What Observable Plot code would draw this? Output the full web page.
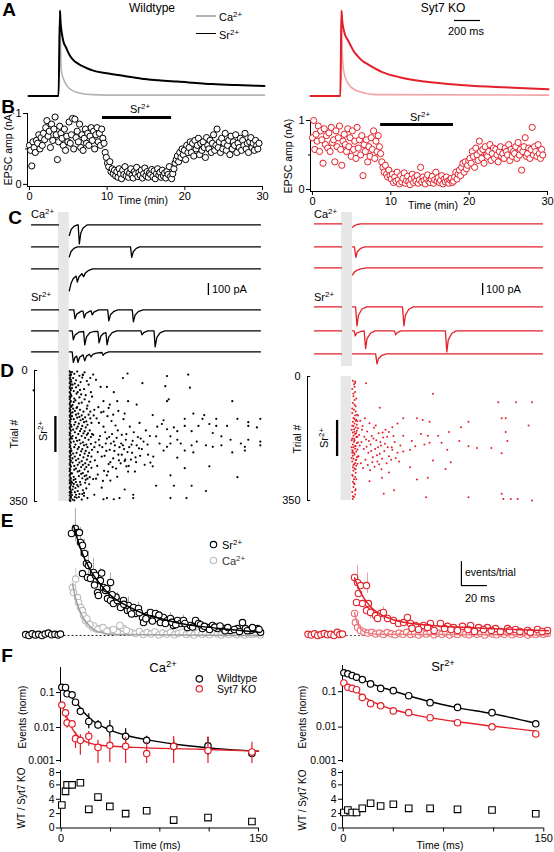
<!DOCTYPE html>
<html><head><meta charset="utf-8">
<script src="https://cdn.jsdelivr.net/npm/d3@7"></script>
<script src="https://cdn.jsdelivr.net/npm/@observablehq/plot@0.6"></script>
<style>
html,body{margin:0;padding:0;background:#fff;}
#fig{position:relative;width:554px;height:852px;overflow:hidden;font-family:"Liberation Sans",Arial,Helvetica,sans-serif;color:#000;background:#fff;}
</style></head><body><div id="fig"></div>
<script>
// ================= DATA =================
// A: averaged EPSCs (time ms, normalised amplitude)
const aWTSrT = [0,231,242,246,252,260,270,288,305,328,360,408,450,492,600,738,869,1000,1146,1415,1600,1815];
const aWTSr  = [0,0,1,0.88,0.78,0.70,0.63,0.57,0.51,0.45,0.40,0.354,0.325,0.30,0.265,0.234,0.203,0.185,0.169,0.140,0.128,0.117];
const aWTCaT = [0,231,242,247,252,274,315,369,492,700,1815];
const aWTCa  = [0,0,1,0.55,0.30,0.18,0.087,0.045,0.016,0.01,0.01];
const aKOSrT = [0,230,238,244,252,265,285,306,330,361,400,442,551,685,877,1146,1423,1831];
const aKOSr  = [0,0,1,0.88,0.80,0.72,0.66,0.60,0.53,0.47,0.41,0.37,0.28,0.22,0.17,0.13,0.106,0.078];
const aKOCaT = [0,230,238,244,254,292,362,497,1831];
const aKOCa  = [0,0,1,0.55,0.30,0.14,0.058,0.016,0.01];

// B: EPSC amplitude (nA x100), one point every 0.15 min
const bStep = 0.15;
const bWT = [55,48,26,60,52,45,62,58,70,50,66,55,72,63,80,90,68,75,52,85,62,78,95,70,35,60,82,72,65,55,78,48,68,60,88,58,70,93,50,92,66,75,60,85,52,70,48,65,78,58,72,55,68,80,62,75,50,70,80,60,72,55,78,65,58,45,38,30,25,32,18,22,15,20,12,18,10,22,15,8,20,14,25,12,18,10,16,22,13,9,18,15,24,11,17,13,20,9,15,23,12,18,10,16,14,21,11,19,8,15,22,13,17,10,20,12,16,9,18,14,25,11,8,15,22,30,35,40,32,45,38,50,42,48,35,55,45,52,60,45,58,40,62,50,55,65,42,58,48,60,52,38,66,55,50,62,45,58,70,48,55,78,52,60,45,65,50,58,72,48,55,62,42,68,50,60,55,70,45,58,52,65,48,62,55,72,50,58,45,60,66,52,58,48,62,55,50,58];
const bKO = [75,100,58,80,70,92,55,85,72,38,88,65,78,60,82,55,90,68,72,40,85,62,75,92,58,35,70,80,65,55,88,62,75,48,85,58,70,45,90,60,72,50,78,20,65,55,72,40,62,48,75,58,85,45,70,55,78,62,52,40,32,25,35,22,18,28,20,15,22,10,18,12,25,14,8,20,11,16,24,9,13,19,12,7,15,22,10,17,12,20,9,14,32,11,18,13,8,16,21,12,10,15,19,9,14,25,12,17,10,13,20,8,15,11,18,12,9,14,16,10,12,18,25,15,22,28,20,32,38,25,40,30,35,42,45,38,55,48,32,60,50,42,70,55,45,58,38,62,50,48,55,65,42,52,60,45,58,50,40,55,62,48,52,45,60,55,50,65,42,58,48,55,52,62,45,68,50,58,28,55,62,75,48,52,60,45,58,90,50,62,55,48,65,52,45,58,50];
const bSrWT = [9.4, 18.3], bSrKO = [8.7, 18.0];

// C: single sweeps (time ms from stimulus, current pA)
const cPreWT = [[-47,0],[0,0]], cPreKO = [[-50.7,0],[-3.5,0]];
const cWT = [
 [[19,-88],[22,-40],[27,-12],[33,0],[34.5,0],[36.5,-158],[39,-70],[43,-25],[50,0],[353,0]],
 [[19,-83],[22,-38],[27,-12],[33,0],[126,0],[128,-88],[131,-38],[136,-12],[142,0],[353,0]],
 [[19,-183],[22,-120],[26,-80],[31,-60],[33,-110],[36,-65],[41,-40],[44,-65],[47,-35],[52,-15],[60,0],[353,0]],
 [[19,0],[27,0],[29,-75],[32,-35],[40,-10],[43,-10],[45,-67],[48,-30],[55,-10],[57,-8],[59,-42],[62,-18],[70,0],[86,0],[88,-92],[91,-40],[97,-12],[104,0],[129,0],[131,-100],[134,-42],[140,-12],[148,0],[353,0]],
 [[19,0],[24,0],[26,-75],[29,-35],[36,-10],[44,-5],[46,-117],[49,-50],[55,-15],[62,-5],[69,-5],[71,-100],[74,-45],[79,-20],[83,-15],[85,-117],[88,-50],[94,-15],[102,0],[144,0],[146,-33],[149,-14],[156,0],[167,0],[169,-133],[172,-55],[178,-15],[186,0],[353,0]],
 [[19,0],[24,0],[26,-88],[29,-45],[32,-35],[34,-88],[37,-45],[43,-25],[46,-75],[49,-35],[54,-20],[57,-42],[60,-20],[66,-10],[76,-5],[78,-29],[81,-12],[88,0],[353,0]]
];
const cKO = [
 [[15.7,-29],[19,-14],[24,-5],[30,0],[347.6,0]],
 [[15.7,0],[19,0],[21.5,-88],[24,-40],[30,-12],[37,0],[347.6,0]],
 [[15.7,-58],[19,-35],[24,-18],[30,-8],[40,0],[347.6,0]],
 [[15.7,0],[21,0],[23.5,-158],[26,-70],[32,-20],[40,0],[103,0],[105.5,-158],[108,-70],[114,-20],[122,0],[347.6,0]],
 [[15.7,0],[18.5,0],[20.5,-42],[23,-18],[30,-5],[36,0],[38.5,-147],[41,-65],[47,-20],[55,0],[89,0],[91,-33],[94,-14],[100,0],[178,0],[180.5,-175],[183,-75],[189,-22],[197,0],[347.6,0]],
 [[15.7,0],[56,0],[58.5,-83],[61,-40],[67,-12],[75,0],[347.6,0]]
];
const cBlankWT = [0, 19], cBlankKO = [-3.5, 15.7];

// D: raster of events (time ms, trial #), flat pairs
const dWT = [19,2,20,6,21,10,19,13,20,18,19,22,21,25,20,29,19,34,21,37,20,41,19,46,20,49,21,53,19,58,20,61,21,65,19,70,20,73,19,77,21,82,20,85,19,89,20,94,21,97,19,101,20,106,19,109,21,113,20,118,19,121,20,125,21,130,19,133,20,137,19,142,21,145,20,149,19,154,20,157,21,161,19,166,20,169,19,173,21,178,20,181,19,185,20,190,21,193,19,197,20,202,19,205,21,209,20,214,19,217,20,221,21,226,19,229,20,233,19,238,21,241,20,245,19,250,20,253,21,257,19,262,20,265,19,269,21,274,20,277,19,281,20,286,21,289,19,293,20,298,19,301,21,305,20,310,19,313,20,317,21,322,19,325,20,329,19,334,21,337,20,341,19,346,20,349,
23,4,27,9,32,3,36,14,25,20,30,26,41,19,45,5,28,35,34,40,23,47,38,31,49,28,26,55,31,62,44,50,22,68,36,72,29,80,40,86,24,92,33,58,47,66,52,38,27,75,35,88,42,12,55,20,22,30,30,45,37,52,26,84,45,77,50,94,32,98,58,70,21,12,24,38,39,64,53,83,
22,96,25,102,28,108,31,100,34,115,37,105,40,120,43,110,46,125,49,102,52,118,55,128,23,122,26,130,29,138,32,126,35,142,38,133,41,148,44,138,47,152,50,145,54,160,57,140,22,150,25,158,28,165,31,155,34,170,37,162,40,175,43,168,46,180,49,172,52,185,56,178,23,182,26,190,29,198,32,188,35,205,38,195,41,210,44,200,47,215,50,205,53,220,58,212,22,215,25,222,28,230,31,220,34,236,37,226,40,242,43,232,46,248,49,238,52,252,55,244,24,246,27,255,30,262,33,252,36,268,39,258,42,274,45,264,48,280,51,270,54,285,23,275,26,284,29,290,35,282,41,288,47,292,57,260,24,112,30,118,36,124,42,130,48,136,27,145,33,150,39,156,45,162,51,168,24,175,30,180,36,186,42,192,48,198,27,205,33,210,39,216,45,222,51,228,24,235,30,240,36,246,42,252,48,258,27,265,33,270,39,276,45,282,57,230,56,196,58,170,55,110,
22,296,26,303,30,298,34,310,24,318,28,325,38,305,42,320,23,333,31,340,27,347,36,330,46,300,25,310,33,322,21,340,40,345,29,314,35,338,44,335,22,326,26,292,48,315,30,332,37,298,24,345,32,306,41,330,23,300,28,338,
62,105,66,128,70,140,74,112,78,150,81,165,85,122,88,178,92,135,96,190,99,147,103,160,106,205,110,172,113,130,117,185,120,218,124,150,127,198,131,165,134,232,138,178,141,140,145,210,148,190,152,160,156,225,159,175,63,240,67,255,71,200,75,230,79,268,83,215,87,250,91,195,95,235,100,262,104,225,108,248,112,200,116,238,122,255,128,220,135,245,142,228,150,252,60,172,64,192,68,218,72,175,76,205,80,228,84,182,89,212,93,170,97,215,101,180,105,240,109,195,114,210,118,170,123,205,129,188,136,200,143,182,60,290,68,278,77,295,86,270,94,258,102,284,61,120,69,98,78,110,87,100,95,118,104,108,62,205,70,185,82,195,90,245,98,200,110,225,126,238,140,208,155,198,165,230,172,150,160,246,
42,11,60,11,112,20,120,8,146,34,189,15,226,11,229,46,186,42,189,82,192,77,96,58,102,82,121,82,84,44,78,82,56,58,65,25,73,44,89,91,115,115,136,91,164,119,303,82,235,115,254,119,220,129,251,129,275,129,294,148,312,129,331,138,352,129,331,148,346,152,275,148,263,143,244,148,232,162,220,148,269,167,284,176,300,185,318,195,331,185,352,190,352,200,325,214,303,219,325,204,284,200,269,204,257,200,241,190,232,200,213,195,207,185,195,176,189,157,180,143,183,133,201,152,207,162,195,195,189,204,183,214,176,195,170,176,220,214,235,219,207,233,115,242,118,256,121,270,133,270,164,256,220,261,263,256,312,285,195,280,201,308,232,308,257,322,130,332,130,341,195,341,223,341,84,341,96,344,106,341,78,344,115,318,170,308,50,289,53,304,65,289,84,280,90,294,75,313,62,332,50,341,44,327,-44,53];
const dKO = [17,12,19,22,16,35,21,44,18,56,20,66,17,75,22,84,19,94,16,103,21,110,18,117,23,122,17,128,20,133,16,139,22,144,19,149,24,153,17,158,21,162,18,167,23,171,16,175,20,180,19,184,24,188,17,192,22,196,18,200,21,204,16,208,23,212,19,216,20,220,17,224,24,228,18,232,22,236,16,240,21,244,19,248,23,252,17,256,20,260,18,266,22,272,16,278,21,284,19,290,17,297,20,304,18,312,22,318,16,326,21,333,19,340,17,346,20,29,23,62,16,90,22,99,25,126,26,146,25,170,26,186,25,206,26,226,25,246,24,170,15,150,15,200,15,180,15,230,18,140,23,160,16,215,22,262,17,280,20,120,24,136,19,176,21,196,18,250,23,235,17,210,20,156,22,125,19,301,21,322,23,290,17,338,20,80,24,108,18,49,21,18,
26,110,30,125,34,140,38,118,42,155,46,132,50,168,54,145,58,180,62,160,66,195,70,172,74,150,78,200,28,165,32,185,36,205,40,178,44,215,48,192,52,228,56,205,60,240,64,218,68,232,72,210,76,245,80,225,27,225,31,245,35,258,39,235,43,250,47,265,51,242,55,255,59,222,63,248,67,262,29,195,33,150,37,170,41,198,45,182,49,210,53,175,57,138,61,200,65,185,69,158,73,190,77,170,85,200,90,185,95,215,100,195,92,230,84,235,88,168,98,240,
40,19,21,14,157,49,64,88,271,73,302,73,330,73,277,118,284,118,324,138,284,157,287,182,219,128,206,143,185,157,166,167,172,187,182,207,148,167,136,162,129,118,139,123,151,128,105,118,95,133,86,143,80,157,105,167,120,182,126,197,142,192,151,187,117,207,105,212,86,207,203,182,219,197,234,202,259,202,277,217,157,237,188,242,179,261,117,256,80,271,68,286,129,291,148,286,46,296,89,321,71,331,145,341,219,341,277,331,280,346,293,346,305,346,330,350];
const dSrTrialsWT = [123, 219], dSrTrialsKO = [124, 226];

// E: event rate histograms (time ms, events/trial in scale-bar units)
const eWTSr = [0.8,4.25,3.8,4.46,5.4,4.29,6.9,4.29,7.7,3.88,9.2,3.75,10.8,3.42,12.3,3.0,13.8,2.92,9.2,2.58,13.1,2.42,15.4,2.38,17.7,2.63,19.2,2.5,23,2.29,25.4,2.0,30.8,2.21,20.8,1.79,21.5,1.67,26.9,1.88,28.5,1.54,30.8,1.46,33,1.33,36,1.46,40.8,1.46,38.5,1.17,43.8,1.04,44.6,1.25,46,1.04,48.5,1.17,52.3,1.13,50,0.92,55.4,0.75,56.2,0.54,59.2,0.83,61.5,0.96,65.4,0.92,66.9,0.71,69.2,0.54,71.5,0.75,74.6,0.63,76.9,0.71,79.2,0.42,82.3,0.63,84.6,0.5,86.9,0.63,90,0.33,92.3,0.42,96.2,0.63,98.5,0.5,101.5,0.29,105.4,0.33,109.2,0.42,113,0.29,117.7,0.29,123,0.21,128.5,0.29,132.3,0.54,134.6,0.29,138.5,0.21,143.8,0.29,146.2,0.13,35,1.6,41,1.3,47,0.9,53,0.95,58,0.7,63,0.6,68,0.85,73,0.5,78,0.55,81,0.45,88,0.5,94,0.35,100,0.45,103,0.38,107,0.25,111,0.35,115,0.4,119,0.2,121,0.33,126,0.25,130,0.17,136,0.2,140,0.33,145,0.25,18.5,2.1,24,2.6,27.7,1.95,32,1.7];
const eWTCa = [1.5,2.0,2.3,1.79,4,2.35,5.4,1.58,6.2,1.38,7.7,1.17,9.2,1.04,10,0.83,11.5,0.63,13.8,0.5,16.9,0.33,19.2,0.29,23,0.29,26.9,0.21,30.8,0.21,36,0.13,40.8,0.29,46,0.13,18,0.4,21,0.25,25,0.33,28,0.17,33,0.25,38,0.42,43,0.21,50,0.08,53,0.17,56,0.04,59,0.12,62,0.06,65,0.15,68,0.02,71,0.1,74,0.05,77,0.13,80,0.03,83,0.09,86,0.14,89,0.04,92,0.08,95,0.02,98,0.11,101,0.05,104,0.09,107,0.03,110,0.12,113,0.06,116,0.02,119,0.08,122,0.04,125,0.1,128,0.03,131,0.07,134,0.02,137,0.06,140,0.04,143,0.08,146,0.03,12.5,0.7,15,0.45];
const eWTBase = [-34.5,0.04,-32,0.0,-29.5,0.07,-27,0.02,-24.5,0.05,-22,0.0,-19.5,0.06,-17,0.1,-14.5,0.03,-12,0.05,-9.5,0.02,-7.7,0.06];
const eKOSr = [0.8,2.42,3.1,2.21,5.4,2.08,10,2.08,3.8,1.75,2.3,1.38,6.9,1.33,11.5,1.33,10,1.04,13.1,0.96,16.9,0.83,20.8,0.92,23,0.96,18.5,0.71,26.2,0.71,30.8,0.63,34.6,0.5,41.5,0.75,38.5,0.54,43.8,0.5,47.7,0.42,53.8,0.42,59.2,0.5,66.9,0.5,72.3,0.38,76.9,0.33,83.8,0.38,90,0.42,96.2,0.33,103,0.33,109.2,0.29,118.5,0.29,124.6,0.25,133.8,0.21,141.5,0.25,149.2,0.21,45,0.3,50,0.25,57,0.33,62,0.21,70,0.29,75,0.25,80,0.21,88,0.25,93,0.17,100,0.25,106,0.21,113,0.17,120,0.21,128,0.17,136,0.13,145,0.17];
const eKOCa = [0.8,0.92,1.5,0.54,3.1,0.33,5.4,0.21,8,0.15,11,0.1,14,0.13,17,0.06,20,0.1,23,0.04,26,0.12,29,0.07,32,0.03,35,0.1,38,0.05,41,0.13,44,0.04,47,0.08,50,0.02,53,0.1,56,0.06,59,0.12,62,0.03,65,0.09,68,0.05,71,0.11,74,0.02,77,0.08,80,0.04,83,0.12,86,0.06,89,0.03,92,0.1,95,0.05,98,0.08,101,0.02,104,0.11,107,0.06,110,0.03,113,0.09,116,0.05,119,0.12,122,0.03,125,0.08,128,0.05,131,0.1,134,0.02,137,0.07,140,0.04,143,0.09,146,0.05,149,0.08];
const eKOBase = [-35,0.05,-32.5,0.02,-30,0.07,-27.5,0.0,-25,0.04,-22.5,0.08,-20,0.03,-17.5,0.05,-15,0.0,-12.5,0.13,-10.5,0.04,-8.5,0.06];
const eWTSrErr = [[3.8,3.9,5.3],[7.7,3.3,4.5],[10.8,2.9,4.0],[13.8,2.3,3.5],[17.7,2.1,3.2],[23,1.8,2.8],[30.8,1.8,2.6],[36,1.1,1.8],[44.6,0.9,1.6],[52.3,0.8,1.4],[59.2,0.6,1.1],[66.9,0.4,1.0],[76.9,0.45,0.95],[86.9,0.4,0.85]];
const eWTCaErr = [[4,1.9,2.8],[7.7,0.9,1.45],[11.5,0.45,0.8]];
const eKOSrErr = [[3.1,1.9,2.9],[10.8,1.75,2.6],[13.1,0.7,1.25],[23,0.7,1.2]];
const eWTSrFit = [[2.3,4.58],[7.7,3.63],[15.4,2.71],[23,2.13],[30.8,1.67],[38.5,1.38],[46,1.17],[57.7,0.88],[69.2,0.71],[84.6,0.5],[100,0.38],[123,0.25],[146,0.13]];
const eWTCaFit = [[1.5,2.17],[3.8,1.58],[6.2,1.17],[9.2,0.79],[12.3,0.54],[16.9,0.29],[23,0.13],[34.6,0.04],[146,0]];
const eKOSrFit = [[0.8,2.4],[5,1.85],[10,1.4],[15,1.1],[20,0.9],[30,0.67],[40,0.54],[60,0.42],[80,0.35],[110,0.28],[150,0.2]];
const eKOCaFit = [[0.8,0.95],[3,0.5],[6,0.25],[10,0.12],[20,0.05],[150,0.02]];

// F: normalised event decay (time ms)
const fTCa = [0.5,3.3,4.5,8.3,10.9,14.6,21,28,37,49,65,85.5,111.6,145];
const fCaWT = [0.141,0.14,0.092,0.086,0.053,0.029,0.0149,0.0119,0.0092,0.0056,0.0043,0.0029,0.003,0.0018];
const fCaWTlo = [0.12,0.12,0.08,0.075,0.045,0.024,0.0092,0.0092,0.0053,0.0038,0.0034,0.002,0.0016,0.0014];
const fCaWThi = [0.165,0.165,0.105,0.1,0.062,0.035,0.0246,0.0159,0.0159,0.0092,0.0056,0.0043,0.0053,0.0024];
const fCaKO = [0.044,0.0263,0.0136,0.0127,0.0048,0.0043,0.0056,0.0027,0.0031,0.0029,0.0018,0.0029,0.0022,0.002];
const fCaKOlo = [0.038,0.0184,0.0095,0.01,0.0025,0.0016,0.0029,0.00093,0.001,0.00093,0.00093,0.00093,0.00093,0.00093];
const fCaKOhi = [0.05,0.032,0.018,0.016,0.0073,0.0062,0.0077,0.0043,0.0055,0.0053,0.0038,0.0055,0.0053,0.0038];
const fCaRatio = [3.2,5.1,6.0,6.0,null,6.3,2.6,4.3,3.0,2.0,2.4,1.1,1.45,0.9];
const fCaWTFit = [[0.2,0.166],[4.5,0.102],[10.9,0.0553],[17.2,0.0274],[24.8,0.0149],[35,0.0092],[50.1,0.0059],[67.8,0.0043],[93.1,0.0031],[118.4,0.0025],[150,0.0021]];
const fCaKOFit = [[0.2,0.0475],[3.3,0.0246],[7.1,0.0114],[12.2,0.0059],[19.8,0.0038],[29.9,0.0031],[55.2,0.0027],[105.8,0.0024],[150,0.0021]];
const fTSr = [0.5,3.5,6.7,10,14.3,20.5,28,37.5,49,65,85.5,111.3,144];
const fSrWT = [0.342,0.32,0.286,0.256,0.22,0.166,0.124,0.107,0.077,0.049,0.036,0.0256,0.0124];
const fSrKO = [0.177,0.133,0.124,0.114,0.069,0.046,0.040,0.0287,0.0256,0.0184,0.0133,0.0102,0.0064];
const fSrKOlo = [0.16,0.12,0.11,0.1,0.058,0.039,0.033,0.025,0.022,0.016,0.0115,0.0088,0.0055];
const fSrKOhi = [0.195,0.148,0.138,0.128,0.082,0.054,0.048,0.033,0.03,0.021,0.0155,0.0118,0.0074];
const fSrRatio = [2.16,2.5,2.16,2.16,2.74,3.44,3.06,3.3,2.74,2.74,2.6,2.5,1.98];
const fSrWTFit = [[0,0.356],[10.5,0.256],[20.4,0.173],[32.9,0.119],[49.1,0.077],[65.3,0.052],[85.2,0.0356],[111.4,0.024],[144.3,0.0128]];
const fSrKOFit = [[0,0.193],[6.7,0.133],[14.2,0.077],[27.9,0.0417],[49.1,0.024],[82.7,0.0146],[111.4,0.0107],[144.3,0.0077]];

// ================= RENDER =================
const FONT = '"Liberation Sans", Arial, Helvetica, sans-serif';
const RED = "#e3202a", PINK = "#f3a3a6", GRAY = "#b3b3b3", BLANK = "#e7e7e7";
const fig = document.getElementById("fig");
const pairs = a => Array.from({length: a.length / 2}, (_, i) => [a[2 * i], a[2 * i + 1]]);
const zip = (t, v) => t.map((x, i) => [x, v[i]]);

function plotAt(frame, pad, opts) {
  const [x0, x1, y0, y1] = frame, [pl, pt, pr, pb] = pad;
  const svg = Plot.plot({
    ...opts,
    width: x1 - x0 + pl + pr, height: y1 - y0 + pt + pb,
    marginLeft: pl, marginTop: pt, marginRight: pr, marginBottom: pb,
    style: {fontFamily: FONT, fontSize: "11px", background: "transparent", overflow: "visible", color: "#000"}
  });
  svg.style.position = "absolute";
  svg.style.left = (x0 - pl) + "px";
  svg.style.top = (y0 - pt) + "px";
  svg.style.maxWidth = "none";
  fig.appendChild(svg);
  return svg;
}
const sup = s => `<span style="font-size:72%;position:relative;top:-0.5em">${s}</span>`;
function lab(html, x, y, o = {}) {
  const d = document.createElement("div");
  d.innerHTML = html;
  const tx = o.anchor === "start" ? "0" : o.anchor === "end" ? "-100%" : "-50%";
  d.style.cssText = `position:absolute;left:${x}px;top:${y}px;font-size:${o.size || 11}px;font-weight:${o.bold ? "bold" : "normal"};color:${o.color || "#000"};white-space:nowrap;line-height:1;transform:translate(${tx},-50%)${o.rot ? ` rotate(${o.rot}deg)` : ""};`;
  fig.appendChild(d);
}
function swatch(x1, x2, y, color, w) {
  const d = document.createElement("div");
  d.style.cssText = `position:absolute;left:${x1}px;top:${y - w / 2}px;width:${x2 - x1}px;height:${w}px;background:${color};`;
  fig.appendChild(d);
}
const fmt = d => String(d);

// ---- A ----
plotAt([28, 264, 9.5, 95], [2, 2, 2, 2], {
  x: {domain: [0, 1815], axis: null}, y: {domain: [0, 1], axis: null},
  marks: [
    Plot.line(zip(aWTCaT, aWTCa), {stroke: GRAY, strokeWidth: 1.6, curve: "monotone-x"}),
    Plot.line(zip(aWTSrT, aWTSr), {stroke: "#000", strokeWidth: 2, curve: "monotone-x"})
  ]
});
plotAt([310, 548, 9.5, 95], [2, 2, 2, 2], {
  x: {domain: [0, 1831], axis: null}, y: {domain: [0, 1], axis: null},
  marks: [
    Plot.line(zip(aKOCaT, aKOCa), {stroke: PINK, strokeWidth: 1.6, curve: "monotone-x"}),
    Plot.line(zip(aKOSrT, aKOSr), {stroke: RED, strokeWidth: 2, curve: "monotone-x"}),
    Plot.ruleY([0.883], {x1: 1108, x2: 1308, stroke: "#000", strokeWidth: 1.2})
  ]
});
lab("A", 9, 9, {size: 19, bold: true});
lab("Wildtype", 152, 8, {size: 12});
lab("Syt7 KO", 443, 8, {size: 12});
swatch(196, 216, 16, GRAY, 1.6);
swatch(196, 216, 33.6, "#000", 1.8);
lab("Ca" + sup("2+"), 219, 17, {anchor: "start", size: 11});
lab("Sr" + sup("2+"), 219, 35, {anchor: "start", size: 11});
lab("200 ms", 466, 31, {size: 11});

// ---- B ----
function bPlot(frame, vals, srWin, srLevel, color) {
  plotAt(frame, [22, 14, 10, 16], {
    x: {domain: [-0.25, 30]}, y: {domain: [-0.03, 1]},
    marks: [
      Plot.ruleX([-0.25], {y1: -0.03, y2: 1, strokeWidth: 1}),
      Plot.ruleY([-0.03], {x1: -0.25, x2: 30, strokeWidth: 1}),
      Plot.axisY({ticks: [0, 1], tickSize: 4, tickPadding: 2, tickFormat: fmt, label: null}),
      Plot.axisY({ticks: [0.5], tickSize: 2, tickFormat: () => "", label: null}),
      Plot.axisX({ticks: [0, 10, 20, 30], tickSize: 4, tickPadding: 2, tickFormat: fmt, label: null}),
      Plot.ruleY([srLevel], {x1: srWin[0], x2: srWin[1], strokeWidth: 3}),
      Plot.dot(vals.map((v, i) => [i * bStep, v / 100]), {r: 3.1, stroke: color, fill: "#fff", strokeWidth: 1})
    ]
  });
}
bPlot([27, 262, 113, 186], bWT, bSrWT, 0.944, "#000");
bPlot([310, 547, 120, 191], bKO, bSrKO, 0.941, RED);
lab("B", 8, 106, {size: 19, bold: true});
lab("Sr" + sup("2+"), 140, 109, {size: 11});
lab("Sr" + sup("2+"), 420, 117, {size: 11});
lab("EPSC amp (nA)", 8, 148, {size: 10.5, rot: -90});
lab("EPSC amp (nA)", 288, 156, {size: 10.5, rot: -90});
lab("Time (min)", 143, 200, {size: 10.5});
lab("Time (min)", 433, 205, {size: 10.5});

// ---- C ----
function cSide(domain, xpx, blank, barT, pre, traces, bases, color, ypx) {
  const top = (ypx[1] - ypx[0]) * 100 / 12, barLo = (ypx[1] - 295) * 100 / 12;
  plotAt([xpx[0], xpx[1], ypx[0], ypx[1]], [0, 0, 0, 0], {
    x: {domain, axis: null}, y: {domain: [0, top], axis: null},
    marks: [
      Plot.rect([blank], {x1: d => d[0], x2: d => d[1], y1: 0, y2: top, fill: BLANK}),
      Plot.ruleX([barT], {y1: barLo, y2: barLo + 100, strokeWidth: 1.3})
    ]
  });
  traces.forEach((tr, i) => {
    plotAt([xpx[0], xpx[1], bases[i] - 2.4, bases[i] + 24], [0, 0, 0, 0], {
      x: {domain, axis: null}, y: {domain: [-200, 20], axis: null},
      marks: [
        Plot.line(pre, {stroke: color, strokeWidth: 1.3}),
        Plot.line(tr, {stroke: color, strokeWidth: 1.3})
      ]
    });
  });
}
cSide([-47, 353], [31, 260], cBlankWT, 262, cPreWT, cWT, [224.7, 246, 268, 309, 330, 351], "#000", [212, 370]);
cSide([-50.7, 347.6], [314, 542], cBlankKO, 243, cPreKO, cKO, [223, 246, 267, 306, 330, 353], RED, [212, 366]);
lab("C", 15, 217, {size: 19, bold: true});
lab("Ca" + sup("2+"), 31, 214, {anchor: "start", size: 11});
lab("Sr" + sup("2+"), 31, 297, {anchor: "start", size: 11});
lab("Ca" + sup("2+"), 314, 214, {anchor: "start", size: 11});
lab("Sr" + sup("2+"), 314, 297, {anchor: "start", size: 11});
lab("100 pA", 212, 289, {anchor: "start", size: 11});
lab("100 pA", 486, 289, {anchor: "start", size: 11});

// ---- D ----
function dSide(domain, frame, blank, srT, srTrials, dots, color, r) {
  const x0 = domain[0];
  plotAt(frame, [32, 6, 6, 6], {
    x: {domain, axis: null}, y: {domain: [0, 350], reverse: true},
    marks: [
      Plot.rect([blank], {x1: d => d[0], x2: d => d[1], y1: 0, y2: 350, fill: BLANK}),
      Plot.ruleX([x0], {y1: 0, y2: 350, strokeWidth: 1}),
      Plot.ruleY([0, 350], {x1: x0, x2: x0 + 5.5, strokeWidth: 1}),
      Plot.axisY({ticks: [0, 350], tickSize: 0, tickPadding: 7, tickFormat: fmt, label: null}),
      Plot.ruleX([srT], {y1: srTrials[0], y2: srTrials[1], strokeWidth: 2.3}),
      Plot.dot(pairs(dots), {r, fill: color, stroke: null})
    ]
  });
}
dSide([-42.5, 353], [33.6, 260, 370, 501], cBlankWT, -6, dSrTrialsWT, dWT, "#000", 1.1);
dSide([-62.2, 347.6], [307.4, 542, 376, 500], [-3.5, 15], -10.5, dSrTrialsKO, dKO, RED, 1.0);
lab("D", 7, 370, {size: 19, bold: true});
lab("Trial #", 14, 434, {size: 10.5, rot: -90});
lab("Trial #", 297, 439, {size: 10.5, rot: -90});
lab("Sr" + sup("2+"), 43, 431, {size: 11, rot: -90});
lab("Sr" + sup("2+"), 324, 438, {size: 11, rot: -90});

// ---- E ----
const errMarks = (err, color) => Plot.ruleX(err, {x: d => d[0], y1: d => d[1], y2: d => d[2], stroke: color, strokeWidth: 0.9});
plotAt([22, 262, 515, 644.6], [2, 2, 2, 2], {
  x: {domain: [-36.9, 147.7], axis: null}, y: {domain: [-0.4, 5], axis: null},
  marks: [
    Plot.ruleY([0], {x1: -8, x2: 147, stroke: "#222", strokeWidth: 1, strokeDasharray: "2,2"}),
    errMarks(eWTCaErr, "#c8c8c8"),
    Plot.dot(pairs(eWTCa), {r: 3.2, stroke: "#bdbdbd", fill: "#fff", strokeWidth: 1.1}),
    Plot.line(eWTCaFit, {stroke: "#a0a0a0", strokeWidth: 1.5, curve: "monotone-x"}),
    errMarks(eWTSrErr, "#a0a0a0"),
    Plot.dot(pairs(eWTSr), {r: 3.2, stroke: "#000", fill: "#fff", strokeWidth: 1.1}),
    Plot.line(eWTSrFit, {stroke: "#000", strokeWidth: 1.5, curve: "monotone-x"}),
    Plot.dot(pairs(eWTBase), {r: 3.2, stroke: "#000", fill: "#fff", strokeWidth: 1.1}),
    Plot.dot([[110, 3.79]], {r: 3.2, stroke: "#000", fill: "#fff", strokeWidth: 1.1}),
    Plot.dot([[110, 3.125]], {r: 3.2, stroke: "#bdbdbd", fill: "#fff", strokeWidth: 1.1})
  ]
});
plotAt([305, 550, 515, 644.6], [2, 2, 2, 2], {
  x: {domain: [-36.9, 151.5], axis: null}, y: {domain: [-0.4, 5], axis: null},
  marks: [
    Plot.ruleY([0], {x1: -8.5, x2: 150, stroke: "#555", strokeWidth: 1, strokeDasharray: "2,2"}),
    Plot.dot(pairs(eKOCa), {r: 3.2, stroke: "#ee6f74", fill: "#fff", strokeWidth: 1.1}),
    Plot.line(eKOCaFit, {stroke: "#ef7a7e", strokeWidth: 1.5, curve: "monotone-x"}),
    errMarks(eKOSrErr, "#f08a8e"),
    Plot.dot(pairs(eKOSr), {r: 3.2, stroke: RED, fill: "#fff", strokeWidth: 1.1}),
    Plot.line(eKOSrFit, {stroke: RED, strokeWidth: 1.5, curve: "monotone-x"}),
    Plot.dot(pairs(eKOBase), {r: 3.2, stroke: RED, fill: "#fff", strokeWidth: 1.1}),
    Plot.ruleX([83], {y1: 2.08, y2: 3.08, strokeWidth: 1.2}),
    Plot.ruleY([2.08], {x1: 83, x2: 103, strokeWidth: 1.2})
  ]
});
lab("E", 7, 520, {size: 19, bold: true});
lab("Sr" + sup("2+"), 222, 545, {anchor: "start", size: 11});
lab("Ca" + sup("2+"), 222, 561, {anchor: "start", size: 11, color: "#333"});
lab("events/trial", 465, 572, {anchor: "start", size: 10.5});
lab("20 ms", 465, 598, {anchor: "start", size: 11});

// ---- F ----
function fUpper(frame, yTop, series, showLegend) {
  const marks = [
    Plot.ruleX([-0.5], {y1: 0.001, y2: yTop, strokeWidth: 1}),
    Plot.axisY({ticks: [0.01, 0.1], tickSize: 4, tickPadding: 2, tickFormat: fmt, label: null, fontSize: 10.5}),
    Plot.axisY({ticks: [0.001], tickSize: 4, tickPadding: 2, tickFormat: fmt, label: null, fontSize: 10.5, dy: -2})
  ];
  series.forEach(s => {
    if (s.lo) marks.push(Plot.ruleX(s.t.map((t, i) => ({t, lo: s.lo[i], hi: s.hi[i]})), {x: "t", y1: "lo", y2: "hi", stroke: s.color, strokeWidth: 1.2}));
    marks.push(Plot.line(s.fit, {stroke: s.color, strokeWidth: 1.4, curve: "monotone-x"}));
    marks.push(Plot.dot(zip(s.t, s.v), {r: 3.2, stroke: s.color, fill: "#fff", strokeWidth: 1.2}));
  });
  if (showLegend) {
    marks.push(Plot.dot([[105, 0.246]], {r: 3.2, stroke: "#000", fill: "#fff", strokeWidth: 1.2}));
    marks.push(Plot.dot([[105, 0.128]], {r: 3.2, stroke: RED, fill: "#fff", strokeWidth: 1.2}));
  }
  plotAt(frame, [40, 4, 10, 4], {x: {domain: [-0.5, 150], axis: null}, y: {type: "log", domain: [0.001, yTop]}, marks});
}
function fLower(frame, t, ratio) {
  plotAt(frame, [40, 4, 10, 18], {
    x: {domain: [-0.5, 150]}, y: {domain: [0, 8]},
    marks: [
      Plot.ruleX([-0.5], {y1: 0, y2: 8, strokeWidth: 1}),
      Plot.ruleY([0], {x1: -0.5, x2: 150, strokeWidth: 1}),
      Plot.axisY({ticks: [0, 2, 4, 6], tickSize: 4, tickPadding: 2, tickFormat: fmt, label: null, fontSize: 10.5}),
      Plot.axisY({ticks: [8], tickSize: 4, tickPadding: 2, tickFormat: fmt, label: null, fontSize: 10.5, dy: 2}),
      Plot.axisX({ticks: [0, 37.5, 75, 112.5, 150], tickSize: 4, tickPadding: 2, tickFormat: d => (d === 0 || d === 150) ? String(d) : "", label: null}),
      Plot.dot(zip(t, ratio).filter(d => d[1] != null), {symbol: "square", r: 3.7, stroke: "#000", fill: "#fff", strokeWidth: 1.1})
    ]
  });
}
fUpper([60, 258, 667, 762], 0.52, [
  {t: fTCa, v: fCaWT, lo: fCaWTlo, hi: fCaWThi, fit: fCaWTFit, color: "#000"},
  {t: fTCa, v: fCaKO, lo: fCaKOlo, hi: fCaKOhi, fit: fCaKOFit, color: RED}
], true);
fUpper([342, 543.3, 665, 762], 0.55, [
  {t: fTSr, v: fSrWT, fit: fSrWTFit, color: "#000"},
  {t: fTSr, v: fSrKO, lo: fSrKOlo, hi: fSrKOhi, fit: fSrKOFit, color: RED}
], false);
fLower([60, 258, 770, 827.5], fTCa, fCaRatio);
fLower([342, 543.3, 770, 827.5], fTSr, fSrRatio);
lab("F", 7, 655, {size: 19, bold: true});
lab("Ca" + sup("2+"), 163, 668, {size: 13});
lab("Sr" + sup("2+"), 443, 667, {size: 13});
lab("Wildtype", 217, 678, {anchor: "start", size: 10.5});
lab("Syt7 KO", 217, 689, {anchor: "start", size: 10.5});
lab("Events (norm)", 23, 717, {size: 10, rot: -90});
lab("Events (norm)", 303, 717, {size: 10, rot: -90});
lab("WT / Syt7 KO", 22, 798, {size: 10, rot: -90});
lab("WT / Syt7 KO", 303, 800, {size: 10, rot: -90});
lab("Time (ms)", 157, 845, {size: 10.5});
lab("Time (ms)", 440, 845, {size: 10.5});
</script></body></html>
